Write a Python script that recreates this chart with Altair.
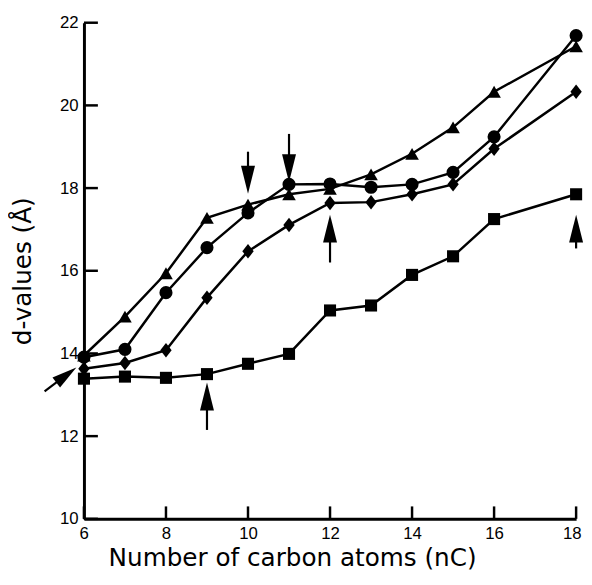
import altair as alt
import pandas as pd

# ---- data ----
carbon = [6, 7, 8, 9, 10, 11, 12, 13, 14, 15, 16, 18]
triangles = [13.95, 14.89, 15.94, 17.28, 17.60, 17.85, 17.98, 18.33, 18.83, 19.47, 20.33, 21.43]
circles = [13.91, 14.10, 15.47, 16.56, 17.40, 18.09, 18.10, 18.02, 18.09, 18.38, 19.24, 21.69]
diamonds = [13.63, 13.77, 14.08, 15.35, 16.47, 17.11, 17.64, 17.66, 17.85, 18.09, 18.95, 20.33]
squares = [13.39, 13.44, 13.41, 13.50, 13.75, 13.99, 15.04, 15.16, 15.90, 16.35, 17.25, 17.85]

x_ticks = [6, 8, 10, 12, 14, 16, 18]
y_ticks = [10, 12, 14, 16, 18, 20, 22]

# downward arrows: x, shaft top, head centre
down_x = [10, 11]
down_y_from = [18.88, 19.31]
down_y_head = [18.20, 18.48]

# upward arrows: x, shaft bottom, head centre
up_x = [12, 18, 9]
up_y_from = [16.20, 16.54, 12.15]
up_y_head = [17.02, 17.02, 12.96]

# diagonal arrow pointing at the y-axis
diag_x = [5.04, 5.57]
diag_y = [13.08, 13.48]

series_names = ["triangle", "circle", "diamond", "square"]
series_values = [triangles, circles, diamonds, squares]

rows = []
for name, vals in zip(series_names, series_values):
    for c, v in zip(carbon, vals):
        rows.append({"series": name, "nC": c, "d": v})
df = pd.DataFrame(rows)

xs = alt.Scale(domain=[6, 18], nice=False, zero=False)
ys = alt.Scale(domain=[10, 22], nice=False, zero=False)

FONT = "Liberation Sans"
TFONT = "DejaVu Sans"

base = alt.Chart(df)

lines = base.mark_line(color="black", strokeWidth=2.5).encode(
    x=alt.X("nC:Q", scale=xs, axis=alt.Axis(
        values=x_ticks, ticks=False, grid=False, domainWidth=3, domainColor="black",
        labelFont=FONT, labelFontSize=17, labelColor="black", labelPadding=7,
        labelOverlap=False, labelFlush=True, labelFlushOffset=5,
        title="Number of carbon atoms (nC)", titleFont=TFONT, titleFontSize=25,
        titleFontWeight="normal", titleColor="black", titleX=211, titleY=47,
        titleAnchor="middle", titleAlign="center", titleBaseline="alphabetic")),
    y=alt.Y("d:Q", scale=ys, axis=alt.Axis(
        values=y_ticks, ticks=False, grid=False, domainWidth=3, domainColor="black",
        labelFont=FONT, labelFontSize=17, labelColor="black", labelPadding=6,
        labelOverlap=False, labelFlush=False,
        title="d-values (Å)", titleFont=TFONT, titleFontSize=25,
        titleFontWeight="normal", titleColor="black", titleX=-54, titleY=251.5,
        titleAngle=270, titleAlign="center", titleBaseline="alphabetic")),
    detail="series:N",
)

DIAMOND = "M0,-1.15L0.9,0L0,1.15L-0.9,0Z"
points = base.mark_point(filled=True, color="black", opacity=1).encode(
    x=alt.X("nC:Q", scale=xs),
    y=alt.Y("d:Q", scale=ys),
    shape=alt.Shape("series:N", scale=alt.Scale(
        domain=series_names, range=["triangle-up", "circle", DIAMOND, "square"]), legend=None),
    size=alt.Size("series:N", scale=alt.Scale(
        domain=series_names, range=[190, 150, 150, 130]), legend=None),
)

xt = pd.DataFrame({"x": x_ticks, "y": [10] * len(x_ticks), "y2": [10.3] * len(x_ticks)})
x_tick_marks = alt.Chart(xt).mark_rule(color="black", strokeWidth=2.5).encode(
    x=alt.X("x:Q", scale=xs), y=alt.Y("y:Q", scale=ys), y2="y2:Q")

yt = pd.DataFrame({"y": y_ticks, "x": [6] * len(y_ticks), "x2": [6.34] * len(y_ticks)})
y_tick_marks = alt.Chart(yt).mark_rule(color="black", strokeWidth=2.5).encode(
    y=alt.Y("y:Q", scale=ys), x=alt.X("x:Q", scale=xs), x2="x2:Q")

DOWN = "M-0.5,-1L0.5,-1L0,1Z"
UP = "M-0.5,1L0.5,1L0,-1Z"

dn = pd.DataFrame({"x": down_x, "y1": down_y_from, "y2": down_y_head})
down_shafts = alt.Chart(dn).mark_rule(color="black", strokeWidth=2.2).encode(
    x=alt.X("x:Q", scale=xs), y=alt.Y("y1:Q", scale=ys), y2="y2:Q")
down_heads = alt.Chart(dn).mark_point(filled=True, color="black", opacity=1, size=800,
                                      shape=DOWN).encode(
    x=alt.X("x:Q", scale=xs), y=alt.Y("y2:Q", scale=ys))

upd = pd.DataFrame({"x": up_x, "y1": up_y_from, "y2": up_y_head})
up_shafts = alt.Chart(upd).mark_rule(color="black", strokeWidth=2.2).encode(
    x=alt.X("x:Q", scale=xs), y=alt.Y("y1:Q", scale=ys), y2="y2:Q")
up_heads = alt.Chart(upd).mark_point(filled=True, color="black", opacity=1, size=800,
                                     shape=UP).encode(
    x=alt.X("x:Q", scale=xs), y=alt.Y("y2:Q", scale=ys))

dg = pd.DataFrame({"x": [diag_x[0]], "y": [diag_y[0]], "x2": [diag_x[1]], "y2": [diag_y[1]]})
diag_shaft = alt.Chart(dg).mark_rule(color="black", strokeWidth=2.2).encode(
    x=alt.X("x:Q", scale=xs), y=alt.Y("y:Q", scale=ys), x2="x2:Q", y2="y2:Q")
diag_head = alt.Chart(dg).mark_point(filled=True, color="black", opacity=1, size=650,
                                     shape=UP, angle=53).encode(
    x=alt.X("x2:Q", scale=xs), y=alt.Y("y2:Q", scale=ys))

chart = alt.layer(
    lines, points, x_tick_marks, y_tick_marks,
    down_shafts, down_heads, up_shafts, up_heads, diag_shaft, diag_head
).properties(
    width=499, height=503,
    padding={"left": 77, "top": 11, "right": 8, "bottom": 50},
    autosize=alt.AutoSizeParams(type="none"),
    background="white",
).configure_view(stroke=None)

chart.save("out.html", embed_options={"renderer": "svg", "actions": False})
